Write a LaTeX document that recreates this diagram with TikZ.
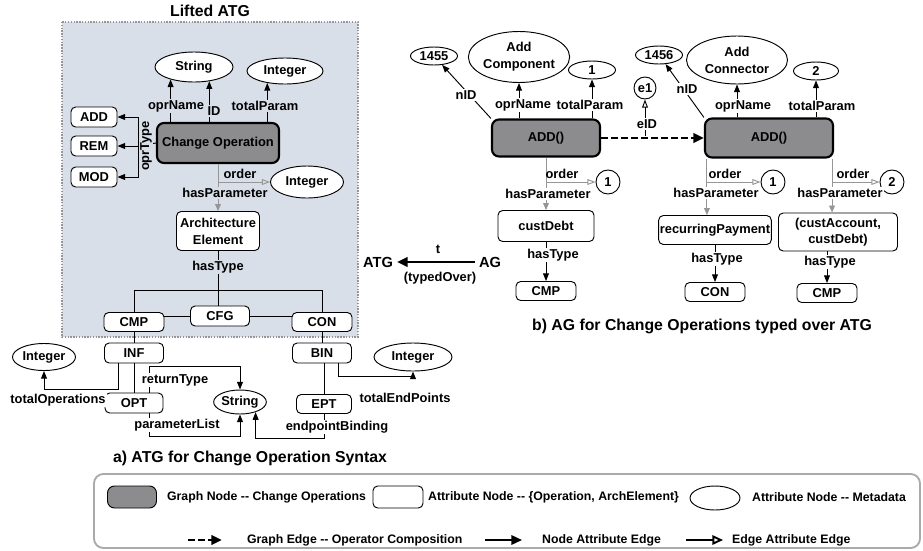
\documentclass[tikz,border=0pt]{standalone}
\usepackage{fontspec}
\setmainfont{Liberation Sans}
\usetikzlibrary{arrows.meta}
\usetikzlibrary{shapes.geometric}

\definecolor{opgray}{RGB}{140,140,142}
\definecolor{atgbg}{RGB}{216,223,233}
\definecolor{edgegray}{RGB}{150,150,150}
\definecolor{legendgray}{RGB}{170,170,170}

\newcommand{\lblfont}{\fontsize{11}{12.5}\selectfont\bfseries}
\newcommand{\legfont}{\fontsize{10.5}{12}\selectfont\bfseries}
\newcommand{\capfont}{\fontsize{13.5}{16}\selectfont\bfseries}

\begin{document}
\begin{tikzpicture}[x=0.03cm, y=-0.03cm, % one unit = one pixel of the layout
	every node/.style={font=\lblfont},
	sz/.style 2 args={minimum width=#1*0.03cm, minimum height=#2*0.03cm},
	opnode/.style={draw, line width=1.8pt, rounded corners=6pt, fill=opgray, inner sep=1pt},
	attnode/.style={draw, line width=0.8pt, rounded corners=4pt, fill=white, inner sep=1pt},
	metanode/.style={ellipse, draw, line width=0.8pt, fill=white, inner sep=0pt},
	numnode/.style={circle, draw, line width=0.8pt, fill=white, inner sep=0pt, minimum size=0.72cm},
	lbl/.style={fill=white, inner sep=1pt},
	lblbg/.style={fill=atgbg, inner sep=1pt},
	natt/.style={-{Triangle[length=6.5pt,width=5pt]}, line width=0.8pt},
	bigatt/.style={-{Triangle[length=9pt,width=8pt]}, line width=2.2pt},
	eatt/.style={-{Triangle[open,length=7pt,width=5pt]}, draw=edgegray, line width=0.8pt},
	hpar/.style={-{Triangle[length=6pt,width=5pt]}, draw=edgegray, line width=0.8pt},
	gedge/.style={-{Triangle[length=9pt,width=8pt]}, dash pattern=on 6pt off 2.5pt, line width=2.2pt}
	]
	\useasboundingbox (0,0) rectangle (923,550);
	
	%lifted ATG frame
	\node[font=\capfont] (liftedTitle) at (210,11) {Lifted ATG};
	\fill[atgbg] (62,22) rectangle (358,337);
	\draw[edgegray, line width=1.5pt, dash pattern=on 1.2pt off 1.2pt] (62,22) rectangle (358,337);
	
	\node[metanode, sz={78}{30}] (strA) at (194,67) {String};
	\node[metanode, sz={76}{26}] (intA) at (285,71) {Integer};
	\node[opnode, sz={122}{40}] (chop) at (218,143) {Change Operation};
	\node[attnode, sz={46}{20}] (addT) at (94,117) {ADD};
	\node[attnode, sz={46}{20}] (remT) at (94,146) {REM};
	\node[attnode, sz={46}{20}] (modT) at (94,177) {MOD};
	\node[metanode, sz={73}{32}] (intB) at (307,182) {Integer};
	\node[attnode, sz={83}{39}, align=center] (arch) at (218,231) {Architecture\\[2pt]Element};
	\node[attnode, sz={59}{20}] (cfg) at (220,316) {CFG};
	\node[attnode, sz={60}{19}] (cmp) at (134,322) {CMP};
	\node[attnode, sz={60}{19}] (con) at (322,322) {CON};
	\node[attnode, sz={59}{20}] (inf) at (134,353) {INF};
	\node[attnode, sz={59}{20}] (bin) at (322,353) {BIN};
	\node[attnode, sz={58}{20}] (opt) at (134,403) {OPT};
	\node[attnode, sz={55}{19}] (ept) at (324,404) {EPT};
	\node[metanode, sz={63}{27}] (intL) at (44,357) {Integer};
	\node[metanode, sz={78}{28}] (intR) at (413,357) {Integer};
	\node[metanode, sz={48}{24}] (strB) at (240,402) {String};
	
	\draw[natt] (strA.208 |- chop.north) -- (strA.208);
	\draw[natt] (strA.317 |- chop.north) -- (strA.317);
	\draw[natt] (intA.214 |- chop.north) -- (intA.214);
	
	\coordinate (otJ) at (138,146);
	\draw[line width=0.8pt] (chop.west) -- (otJ);
	\draw[natt] (otJ) |- (addT);
	\draw[natt] (otJ) -- (remT);
	\draw[natt] (otJ) |- (modT);
	
	\draw[eatt] (chop.south) |- (intB);
	\draw[hpar] (chop.south) -- (arch.north);
	
	\coordinate (hBar) at (218,290);
	\draw[line width=0.8pt] (arch.south) -- (arch.south |- cfg.north);
	\draw[line width=0.8pt] (cmp.north) -- (cmp.north |- hBar) -- (con.north |- hBar) -- (con.north);
	\draw[line width=0.8pt] (cfg.west) -- (cfg.west -| cmp.east);
	\draw[line width=0.8pt] (cfg.east) -- (cfg.east -| con.west);
	\draw[line width=0.8pt] (cmp) -- (inf);
	\draw[line width=0.8pt] (con) -- (bin);
	\draw[line width=0.8pt] (inf) -- (opt);
	\draw[line width=0.8pt] (bin.south -| ept.north) -- (ept.north);
	
	\coordinate (infTO) at ([xshift=-0.48cm]inf.south);
	\coordinate (binTE) at ([xshift=0.48cm]bin.south);
	\coordinate (optRT) at ([xshift=0.45cm]opt.north);
	\coordinate (optPL) at ([xshift=0.45cm]opt.south);
	\draw[natt] (infTO) -- ++(0,26) -| (intL.south);
	\draw[natt] (binTE) -- ++(0,13) -| (intR.south);
	\draw[natt] (optRT) -- ++(0,-26) -| (strB.north);
	\draw[natt] (optPL) -- ++(0,23) -| (strB.south);
	\draw[natt] (ept.south) -- ++(0,24) -| (strB.327);
	
	\node[lblbg] (oprNameA) at (176,106) {oprName};
	\node[lblbg] (idA) at (214,111) {ID};
	\node[lblbg] (totalParamA) at (265,106) {totalParam};
	\node[lblbg, rotate=90] (oprTypeA) at (146,146) {oprType};
	\node[inner sep=1pt] (orderA) at (240,174) {order};
	\node[lblbg] (hasParamA) at (225,193) {hasParameter};
	\node[lblbg] (hasTypeA) at (218,267) {hasType};
	\node[lbl] (totalOpsLbl) at (58,400) {totalOperations};
	\node[lbl] (returnTypeLbl) at (175,380) {returnType};
	\node[lbl] (paramListLbl) at (177,425) {parameterList};
	\node[lbl] (epBindingLbl) at (337,427) {endpointBinding};
	\node[lbl] (totalEPLbl) at (405,398) {totalEndPoints};
	
	\node[font=\capfont] (capA) at (250,458) {a) ATG for Change Operation Syntax};
	
	%AG for the change operations
	\node[opnode, sz={108}{37}] (addL) at (546,138) {ADD()};
	\node[opnode, sz={128}{39}] (addR) at (769,138) {ADD()};
	\node[metanode, sz={47}{18}] (n1455) at (434,56) {1455};
	\node[metanode, sz={96}{51}, align=center] (addComp) at (519,57) {Add\\[2pt]Component};
	\node[metanode, sz={47}{18}] (oneL) at (592,70) {1};
	\node[numnode, minimum size=0.66cm] (e1) at (645,88) {e1};
	\node[metanode, sz={47}{18}] (n1456) at (659,55) {1456};
	\node[metanode, sz={101}{48}, align=center] (addConn) at (737,60) {Add\\[2pt]Connector};
	\node[metanode, sz={45}{18}] (two) at (816,71) {2};
	\node[numnode] (ordL) at (608,182) {1};
	\node[numnode] (ordR1) at (773,182) {1};
	\node[numnode] (ordR2) at (892,182) {2};
	\node[attnode, sz={96}{31}] (custDebt) at (546,226) {custDebt};
	\node[attnode, sz={110}{29}] (recPay) at (715,230) {recurringPayment};
	\node[attnode, sz={119}{38}, align=center] (custAcc) at (838,232) {(custAccount,\\[1pt]custDebt)};
	\node[attnode, sz={60}{19}] (cmpL) at (546,291) {CMP};
	\node[attnode, sz={60}{19}] (conR) at (715,292) {CON};
	\node[attnode, sz={60}{19}] (cmpR) at (827,293) {CMP};
	
	\draw[natt] (addL.north west) -- (n1455);
	\draw[natt] (addComp.south |- addL.north) -- (addComp.south);
	\draw[natt] (oneL.south |- addL.north) -- (oneL.south);
	\draw[natt] (addR.north west) -- (n1456);
	\draw[natt] (addConn.south |- addR.north) -- (addConn.south);
	\draw[natt] (two.south |- addR.north) -- (two.south);
	
	\draw[gedge] (addL) -- (addR);
	\coordinate (eidS) at (645,136);
	\draw[-{Triangle[open,length=7pt,width=5pt]}, line width=0.8pt] (eidS) -- (e1);
	
	\coordinate (opR1) at ([xshift=0.09cm]addR.south west);
	\coordinate (opR2) at ([xshift=-0.06cm]addR.south east);
	\draw[eatt] (addL.south) |- (ordL);
	\draw[eatt] (opR1) |- (ordR1);
	\draw[eatt] (opR2) |- (ordR2);
	\draw[hpar] (addL.south) -- (custDebt.north);
	\draw[hpar] (opR1) -- (opR1 |- recPay.north);
	\draw[hpar] (opR2) -- (opR2 |- custAcc.north);
	
	\draw[natt] (custDebt) -- (cmpL);
	\draw[natt] (recPay) -- (conR);
	\draw[natt] (cmpR.north |- custAcc.south) -- (cmpR.north);
	
	\node[lbl] (nidL) at (466,95) {nID};
	\node[lbl] (oprNameL) at (523,105) {oprName};
	\node[lbl] (totalParamL) at (590,105) {totalParam};
	\node[lbl] (eidLbl) at (647,124) {eID};
	\node[lbl] (nidR) at (687,89) {nID};
	\node[lbl] (oprNameR) at (743,106) {oprName};
	\node[lbl] (totalParamR) at (822,106) {totalParam};
	\node[inner sep=1pt] (orderL) at (562,174) {order};
	\node[inner sep=1pt] (orderR1) at (725,174) {order};
	\node[inner sep=1pt] (orderR2) at (853,174) {order};
	\node[lbl] (hasParamL) at (548,194) {hasParameter};
	\node[lbl] (hasParamR1) at (716,193) {hasParameter};
	\node[lbl] (hasParamR2) at (840,193) {hasParameter};
	\node[lbl] (hasTypeL) at (553,255) {hasType};
	\node[lbl] (hasTypeR1) at (717,259) {hasType};
	\node[lbl] (hasTypeR2) at (830,262) {hasType};
	
	%typed over arrow
	\node[font=\fontsize{12.5}{15}\selectfont\bfseries] (atgLbl) at (378,262) {ATG};
	\node[font=\fontsize{12.5}{15}\selectfont\bfseries] (agLbl) at (490,262) {AG};
	\draw[bigatt] (agLbl) -- (atgLbl);
	\node (tLbl) at (438,249) {t};
	\node (typedOverLbl) at (440,278) {(typedOver)};
	
	\node[font=\capfont] (capB) at (702,326) {b) AG for Change Operations typed over ATG};
	
	%legend
	\draw[legendgray, line width=1.6pt, rounded corners=8pt] (94,474) rectangle (920,548);
	\node[opnode, line width=0.8pt, sz={49}{22}] (lgOp) at (132,497) {};
	\node[anchor=west, font=\legfont] (lgOpTxt) at (163,497) {Graph Node -{}- Change Operations};
	\node[attnode, sz={50}{22}] (lgAtt) at (398,497) {};
	\node[anchor=west, font=\legfont] (lgAttTxt) at (424,497) {Attribute Node -{}- \{Operation, ArchElement\}};
	\node[metanode, sz={50}{24}] (lgMeta) at (715,498) {};
	\node[anchor=west, font=\legfont] (lgMetaTxt) at (748,497) {Attribute Node -{}- Metadata};
	
	\coordinate (lgG1) at (188,540);
	\coordinate (lgG2) at (222,540);
	\coordinate (lgN1) at (485,540);
	\coordinate (lgN2) at (522,540);
	\coordinate (lgE1) at (686,540);
	\coordinate (lgE2) at (723,540);
	\draw[gedge] (lgG1) -- (lgG2);
	\draw[bigatt, line width=1.6pt] (lgN1) -- (lgN2);
	\draw[-{Triangle[open,length=9pt,width=8pt]}, line width=1.6pt] (lgE1) -- (lgE2);
	\node[anchor=west, font=\legfont] (lgGTxt) at (243,540) {Graph Edge -{}- Operator Composition};
	\node[anchor=west, font=\legfont] (lgNTxt) at (538,540) {Node Attribute Edge};
	\node[anchor=west, font=\legfont] (lgETxt) at (728,540) {Edge Attribute Edge};
\end{tikzpicture}
\end{document}
